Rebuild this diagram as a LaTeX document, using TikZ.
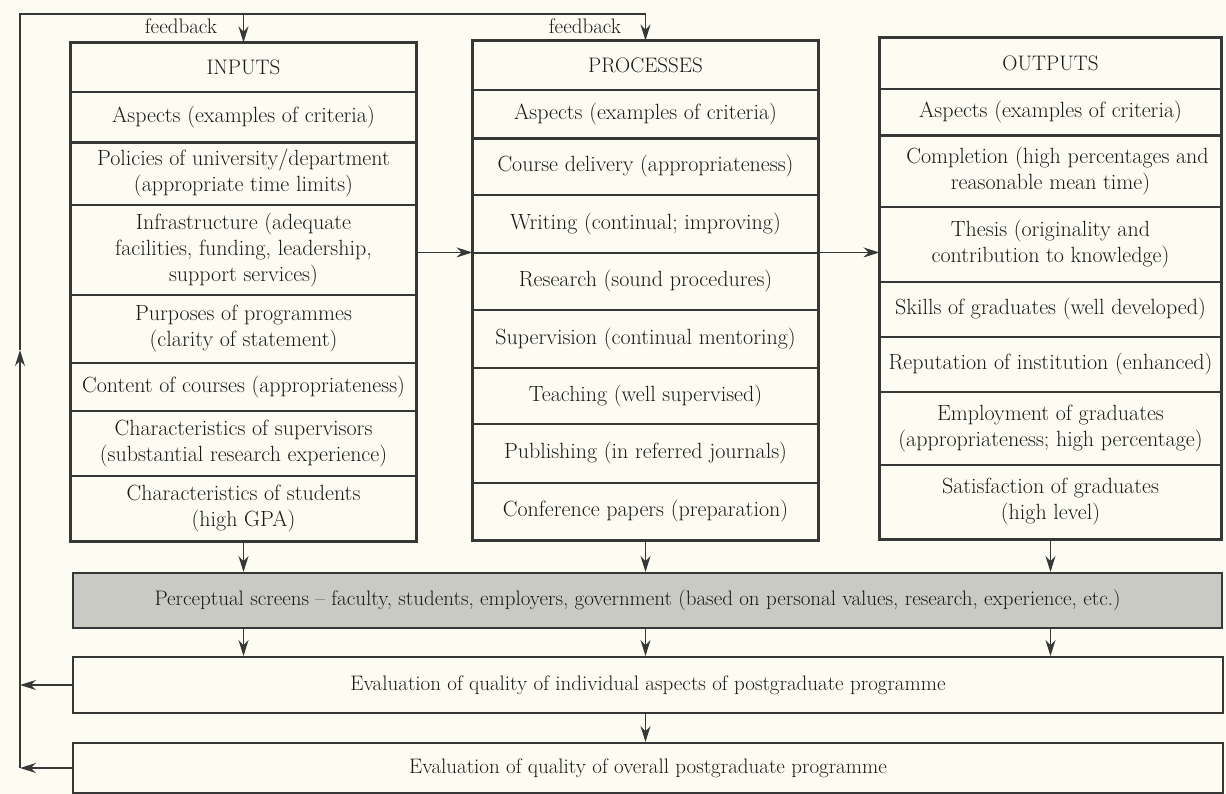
\documentclass[tikz,border=0pt]{standalone}
\usetikzlibrary{arrows.meta}
\definecolor{paper}{RGB}{253,252,243}
\definecolor{ink}{RGB}{55,55,55}
\definecolor{txt}{RGB}{25,25,25}
\definecolor{screen}{RGB}{202,202,197}
\tikzset{
  cellbox/.style={draw=ink, line width=1.1pt, inner sep=0pt, align=center,
    text=txt, font=\fontsize{22}{26}\selectfont},
  headbox/.style={font=\fontsize{21}{25}\selectfont},
  widebox/.style={cellbox, draw=ink, line width=2pt, font=\fontsize{21}{25}\selectfont},
  frame/.style={draw=ink, line width=2pt},
  heavy/.style={draw=ink, line width=3pt},
  link/.style={draw=ink, line width=1.2pt},
  arr/.style={link, -{Stealth[length=16pt,width=10pt]}},
  lbl/.style={text=txt, font=\fontsize{21}{25}\selectfont, inner sep=0pt},
}
% \cellat[extra]{name}{x1}{y1}{x2}{y2}{text}: a boxed cell spanning the given corners
\newcommand\cellat[7][]{%
  \node[cellbox, #1, minimum width={(#5-#3)*1pt}, minimum height={(#6-#4)*1pt}]
    (#2) at ({(#3+#5)/2},{-(#4+#6)/2}) {#7};}
\begin{document}
\begin{tikzpicture}[x=1pt,y=1pt]
\fill[paper] (0,0) rectangle (1226,-794);
\useasboundingbox (0,0) rectangle (1226,-794);

% ---- INPUTS column
\cellat[headbox]{i1}{71}{43}{416}{92}{INPUTS}
\cellat{i2}{71}{92}{416}{142}{Aspects (examples of criteria)}
\cellat{i3}{71}{142}{416}{205}{Policies of university/department\\(appropriate time limits)}
\cellat{i4}{71}{205}{416}{295}{Infrastructure (adequate\\facilities, funding, leadership,\\support services)}
\cellat{i5}{71}{295}{416}{363}{Purposes of programmes\\(clarity of statement)}
\cellat{i6}{71}{363}{416}{411}{Content of courses (appropriateness)}
\cellat{i7}{71}{411}{416}{476}{Characteristics of supervisors\\(substantial research experience)}
\cellat{i8}{71}{476}{416}{541}{Characteristics of students\\(high GPA)}
\draw[frame] (i1.north west) rectangle (i8.south east);
\draw[heavy] (i2.south west) -- (i2.south east);

% ---- PROCESSES column
\cellat[headbox]{p1}{473}{41}{818}{90}{PROCESSES}
\cellat{p2}{473}{90}{818}{138}{Aspects (examples of criteria)}
\cellat{p3}{473}{138}{818}{195}{Course delivery (appropriateness)}
\cellat{p4}{473}{195}{818}{253}{Writing (continual; improving)}
\cellat{p5}{473}{253}{818}{310}{Research (sound procedures)}
\cellat{p6}{473}{310}{818}{368}{Supervision (continual mentoring)}
\cellat{p7}{473}{368}{818}{424}{Teaching (well supervised)}
\cellat{p8}{473}{424}{818}{483}{Publishing (in referred journals)}
\cellat{p9}{473}{483}{818}{540}{Conference papers (preparation)}
\draw[frame] (p1.north west) rectangle (p9.south east);
\draw[heavy] (p2.south west) -- (p2.south east);

% ---- OUTPUTS column
\cellat[headbox]{o1}{880}{38}{1221}{89}{OUTPUTS}
\cellat{o2}{880}{89}{1221}{135}{Aspects (examples of criteria)}
\cellat{o3}{880}{135}{1221}{207}{\hspace*{14pt}Completion (high percentages and\\reasonable mean time)}
\cellat{o4}{880}{207}{1221}{282}{Thesis (originality and\\contribution to knowledge)}
\cellat{o5}{880}{282}{1221}{337}{Skills of graduates (well developed)}
\cellat{o6}{880}{337}{1221}{392}{Reputation of institution (enhanced)}
\cellat{o7}{880}{392}{1221}{465}{Employment of graduates\\(appropriateness; high percentage)}
\cellat{o8}{880}{465}{1221}{539}{Satisfaction of graduates\\(high level)}
\draw[frame] (o1.north west) rectangle (o8.south east);
\draw[heavy] (o2.south west) -- (o2.south east);

% ---- screens and evaluations
\node[widebox, fill=screen, minimum width=1149pt, minimum height=55pt]
  (perc) at (647.5,-600.5)
  {Perceptual screens -- faculty, students, employers, government (based on personal values, research, experience, etc.)\hspace*{20pt}};
\node[widebox, minimum width=1150pt, minimum height=56pt]
  (ev1) at (648,-685)
  {Evaluation of quality of individual aspects of postgraduate programme};
\node[widebox, minimum width=1150pt, minimum height=50pt]
  (ev2) at (648,-768)
  {Evaluation of quality of overall postgraduate programme};

% ---- flow between columns
\draw[arr] (i4.east |- p5.north) -- (p5.north west);
\draw[arr] (p5.north east) -- (o4.west |- p5.north);

% ---- columns into the screens, screens into the evaluations
\draw[arr] (i8.south) -- (i8.south |- perc.north);
\draw[arr] (p9.south) -- (p9.south |- perc.north);
\draw[arr] (o8.south) -- (o8.south |- perc.north);
\draw[arr] (i8.south |- perc.south) -- (i8.south |- ev1.north);
\draw[arr] (p9.south |- perc.south) -- (p9.south |- ev1.north);
\draw[arr] (o8.south |- perc.south) -- (o8.south |- ev1.north);
\draw[arr] (p9.south |- ev1.south) -- (p9.south |- ev2.north);

% ---- feedback loop
\coordinate (fbx) at (20,0);
\coordinate (fbtop) at (20,-14);
\coordinate (fbmid) at (20,-350);
\draw[arr] (ev1.west) -- (ev1.west -| fbx);
\draw[arr] (ev2.west) -- (ev2.west -| fbx);
\draw[arr] (ev2.west -| fbx) -- (fbmid);
\draw[link] (fbmid) -- (fbtop) -- (fbtop -| p1.north);
\draw[arr] (fbtop -| p1.north) -- (p1.north);
\draw[arr] (fbtop -| i1.north) -- (i1.north);
\node[lbl] (fb1) at (181,-26) {feedback};
\node[lbl] (fb2) at (585,-26) {feedback};
\end{tikzpicture}
\end{document}
